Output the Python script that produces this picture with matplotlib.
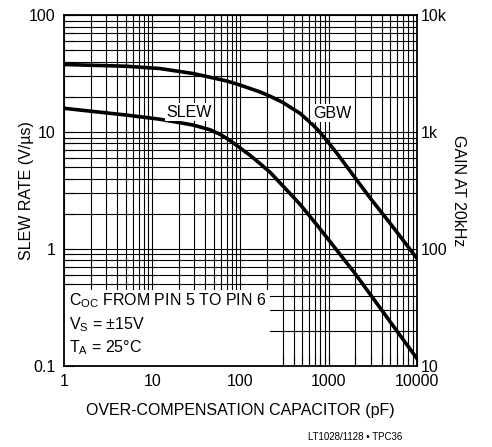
import matplotlib
matplotlib.use("Agg")
import matplotlib.pyplot as plt
from matplotlib import font_manager
from matplotlib.ticker import LogLocator, FixedLocator, FixedFormatter, NullFormatter
from matplotlib.patches import Rectangle

# pick a condensed font if there is one
names = {f.name for f in font_manager.fontManager.ttflist}
narrow = "Liberation Sans Narrow" if "Liberation Sans Narrow" in names else "Liberation Sans"
plt.rcParams['font.family'] = [narrow, 'DejaVu Sans']
plt.rcParams['mathtext.fontset'] = 'custom'
plt.rcParams['mathtext.rm'] = narrow
plt.rcParams['mathtext.it'] = narrow

# data
gbw_cap = [1, 5.1, 12.2, 29.2, 69.8, 100, 166, 216, 300, 472, 650, 796, 1000, 1340, 2000, 2933, 5000, 10000]
gbw = [37.9, 36.6, 35.0, 31.7, 27.4, 25.2, 22.1, 20.3, 18.0, 14.5, 11.7, 10.0, 8.1, 6.1, 4.05, 2.75, 1.65, 0.834]

slew_cap = [1, 5.1, 12.2, 29.2, 45, 58.6, 76, 98.5, 128, 166, 216, 364, 472, 730, 1000, 1983, 4000, 10000]
slew = [16.0, 14.0, 12.9, 11.5, 10.5, 9.6, 8.5, 7.35, 6.35, 5.4, 4.55, 2.99, 2.42, 1.62, 1.2, 0.62, 0.30, 0.116]

x_ticks = [1, 10, 100, 1000, 10000]
x_labels = ["1", "10", "100", "1000", "10000"]
left_ticks = [0.1, 1, 10, 100]
left_labels = ["0.1", "1", "10", "100"]
right_ticks = [10, 100, 1000, 10000]
right_labels = ["10", "100", "1k", "10k"]

fig = plt.figure(figsize=(4.92, 4.47), dpi=100)
ax = fig.add_axes([0.130, 0.181, 0.7175, 0.785])
ax.set_xscale('log')
ax.set_yscale('log')
ax.set_xlim(1, 10000)
ax.set_ylim(0.1, 100)

ax.xaxis.set_major_locator(FixedLocator(x_ticks))
ax.xaxis.set_major_formatter(FixedFormatter(x_labels))
ax.xaxis.set_minor_locator(LogLocator(base=10, subs=range(2, 10)))
ax.xaxis.set_minor_formatter(NullFormatter())
ax.yaxis.set_major_locator(FixedLocator(left_ticks))
ax.yaxis.set_major_formatter(FixedFormatter(left_labels))
ax.yaxis.set_minor_locator(LogLocator(base=10, subs=range(2, 10)))
ax.yaxis.set_minor_formatter(NullFormatter())

ax.grid(True, which='both', color='black', lw=0.8, zorder=1)
ax.tick_params(which='both', direction='in', length=7, width=0.8, color='black', labelsize=11.5)
ax.tick_params(which='major', pad=6)
for s in ax.spines.values():
    s.set_linewidth(1.3)

ax.plot(gbw_cap, gbw, color='black', lw=2.6, zorder=3, solid_joinstyle='round')
ax.plot(slew_cap, slew, color='black', lw=2.6, zorder=3, solid_joinstyle='round')

# white area for the conditions note
ax.add_patch(Rectangle((1, 0.1), 214, 0.35, facecolor='white', edgecolor='none', zorder=2))
ax.text(1.15, 0.36, "C$_{OC}$ FROM PIN 5 TO PIN 6", fontsize=11.5, va='center', zorder=4)
ax.text(1.15, 0.225, "V$_S$ = ±15V", fontsize=11.5, va='center', zorder=4)
ax.text(1.15, 0.145, "T$_A$ = 25°C", fontsize=11.5, va='center', zorder=4)

ax.text(26, 14.8, "SLEW", fontsize=11.5, ha='center', va='center', zorder=4,
        bbox=dict(facecolor='white', edgecolor='none', pad=1))
ax.text(1090, 14.5, "GBW", fontsize=11.5, ha='center', va='center', zorder=4,
        bbox=dict(facecolor='white', edgecolor='none', pad=1))

ax.set_xlabel("OVER-COMPENSATION CAPACITOR (pF)", fontsize=11.5, labelpad=10)
ax.set_ylabel("SLEW RATE (V/µs)", fontsize=11.5)
ax.yaxis.set_label_coords(-0.085, 0.5)

ax2 = ax.twinx()
ax2.set_yscale('log')
ax2.set_ylim(10, 10000)
ax2.yaxis.set_major_locator(FixedLocator(right_ticks))
ax2.yaxis.set_major_formatter(FixedFormatter(right_labels))
ax2.yaxis.set_minor_formatter(NullFormatter())
ax2.tick_params(which='both', direction='in', length=0, labelsize=11.5, pad=3)
ax2.set_ylabel("GAIN AT 20kHz", fontsize=11.5, rotation=-90, labelpad=13)
for s in ax2.spines.values():
    s.set_visible(False)

fig.text(0.722, 0.022, "LT1028/1128 • TPC36", fontsize=7, family=['Liberation Sans', 'DejaVu Sans'],
         ha='center', va='center')

fig.savefig("out.png", dpi=100)
